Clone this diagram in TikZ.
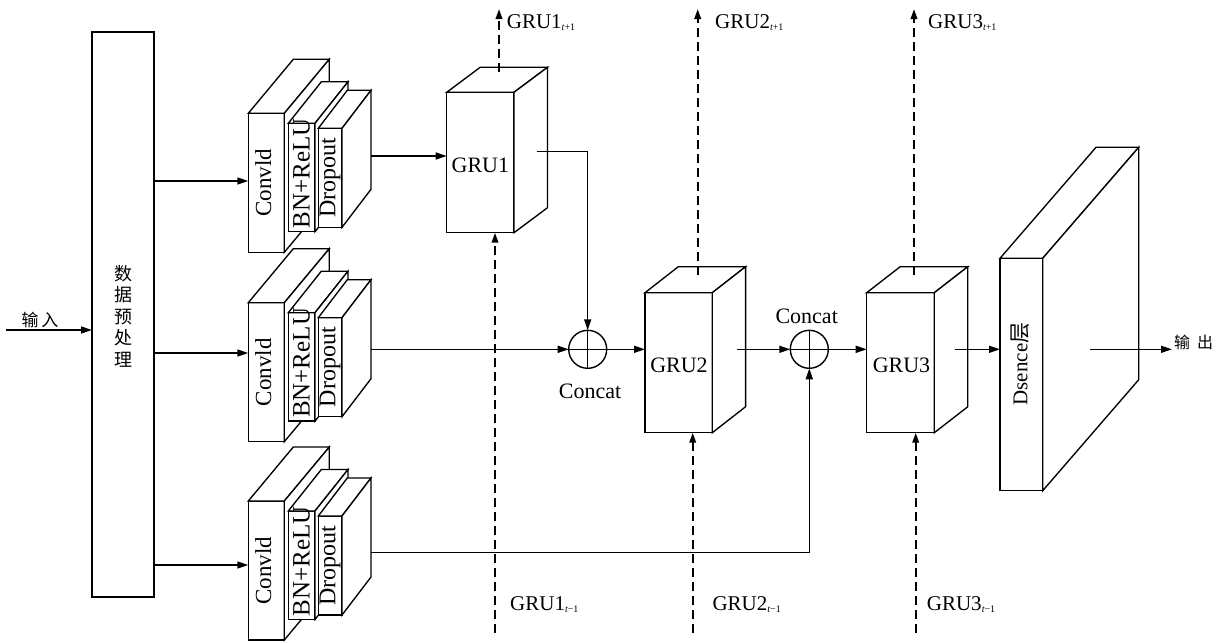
\documentclass[tikz,border=0pt]{standalone}
\usepackage{fontspec}
\setmainfont{Liberation Serif}
\newfontfamily\cjk{Noto Sans CJK SC}
\usetikzlibrary{arrows.meta,calc}
\newcommand\cubefaces[3]{%
  \filldraw[boxline] (#1.north west) -- ++(#2,#3) -- ($(#1.north east)+(#2,#3)$) -- (#1.north east) -- cycle;
  \filldraw[boxline] (#1.north east) -- ++(#2,#3) -- ($(#1.south east)+(#2,#3)$) -- (#1.south east) -- cycle;}
\newcommand\grulab[2]{GRU#1\raisebox{-2pt}{\fontsize{10}{10}\selectfont\itshape t\upshape#2}}
\begin{document}
\begin{tikzpicture}[x=1pt,y=-1pt,
  boxline/.style={draw=black,line width=1.35pt,fill=white,line join=miter},
  face/.style={boxline,rectangle,inner sep=0pt,outer sep=0pt},
  arr/.style={line width=1.5pt,-{Triangle[length=11pt,width=7pt]}},
  dasharr/.style={line width=2pt,dash pattern=on 9pt off 5pt,-{Triangle[length=10pt,width=6.5pt]}},
  opcircle/.style={circle,draw,line width=1.4pt,fill=white,minimum size=38pt,inner sep=0pt,outer sep=0pt,
    path picture={\draw[line width=1.4pt] (path picture bounding box.north) -- (path picture bounding box.south)
      (path picture bounding box.west) -- (path picture bounding box.east);}},
  lab/.style={font=\fontsize{22}{22}\selectfont,inner sep=0pt},
  toplab/.style={font=\fontsize{21}{21}\selectfont,inner sep=0pt,anchor=base west}]
\useasboundingbox (0,0) rectangle (1223,641);

% preprocessing
\node[face,minimum width=62pt,minimum height=565pt] (pre) at (123,314.5) {};
\node[font=\cjk\fontsize{18}{21.5}\selectfont,align=center,inner sep=0pt] (pret) at (123,316) {数\\据\\预\\处\\理};
\coordinate (inL) at (6,330);
\draw[arr] (inL) -- (inL -| pre.west);
\node[font=\cjk\fontsize{17}{17}\selectfont,inner sep=0pt] (inlab) at (40,320) {输\hspace{3pt}入};

% conv stacks
\foreach \i/\T in {1/113.3,2/302.7,3/501}{
  \node[face,minimum width=36pt,minimum height=139pt] (c\i) at (266.3,\T+69.5) {};
  \cubefaces{c\i}{45}{-54}
  \node[font=\fontsize{23}{23}\selectfont,inner sep=0pt] (ct\i) at ($(c\i.center)+(-3,0)$) {\rotatebox{90}{Convld}};
  \node[face,minimum width=26.7pt,minimum height=108.4pt] (b\i) at (301.65,\T+64.2) {};
  \cubefaces{b\i}{33}{-41.5}
  \node[font=\fontsize{25}{25}\selectfont,inner sep=0pt] (bt\i) at ($(b\i.center)+(0,-4)$) {\rotatebox{90}{BN+ReLU}};
  \node[face,minimum width=23.7pt,minimum height=99pt] (d\i) at (330.15,\T+64.5) {};
  \cubefaces{d\i}{29}{-38}
  \node[font=\fontsize{24}{24}\selectfont,inner sep=0pt] (dt\i) at (d\i.center) {\rotatebox{90}{Dropout}};
}

% branch arrows from preprocessing
\coordinate (br1) at (154,181);
\coordinate (br2) at (154,353);
\coordinate (br3) at (154,565);
\draw[arr] (br1) -- (br1 -| c1.west);
\draw[arr] (br2) -- (br2 -| c2.west);
\draw[arr] (br3) -- (br3 -| c3.west);

% GRU boxes
\node[face,minimum width=67.3pt,minimum height=140.4pt] (g1) at (480.35,162.5) {};
\cubefaces{g1}{33.5}{-25}
\node[lab] (g1t) at (480.35,165) {GRU1};
\node[face,minimum width=67.3pt,minimum height=140pt] (g2) at (678.65,362.7) {};
\cubefaces{g2}{33.3}{-26}
\node[lab] (g2t) at (679,365) {GRU2};
\node[face,minimum width=67.6pt,minimum height=140pt] (g3) at (900.5,362.7) {};
\cubefaces{g3}{33.5}{-26}
\node[lab] (g3t) at (901.5,365) {GRU3};

% Dsence
\node[face,minimum width=42.7pt,minimum height=232.4pt] (ds) at (1021.35,374.5) {};
\cubefaces{ds}{96}{-111}
\node[font=\fontsize{21}{21}\selectfont,inner sep=0pt] (dst) at (1020,364) {\rotatebox{90}{Dsence{\cjk 层}}};

% concat circles
\node[opcircle] (o1) at (587.7,349.3) {};
\node[opcircle] (o2) at (809.3,349.3) {};
\node[lab] (o1t) at (590,391.7) {Concat};
\node[lab] (o2t) at (806.7,316) {Concat};

% data flow
\coordinate (d1o) at (371,156);
\coordinate (d2o) at (371,349.3);
\coordinate (d3o) at (371,552.7);
\draw[arr] (d1o) -- (d1o -| g1.west);
\draw[arr] (d2o) -- (o1.west);
\draw[arr] (d3o) -| (o2.south);
\coordinate (g1o) at (536.7,151.7);
\draw[arr] (g1o) -| (o1.north);
\draw[arr] (o1.east) -- (o1.east -| g2.west);
\coordinate (g2o) at (736.7,349.3);
\draw[arr] (g2o) -- (o2.west);
\draw[arr] (o2.east) -- (o2.east -| g3.west);
\coordinate (g3o) at (955,349.3);
\draw[arr] (g3o) -- (g3o -| ds.west);
\coordinate (dso) at (1090,349.3);
\coordinate (outR) at (1172,349.3);
\draw[arr] (dso) -- (outR);
\node[font=\cjk\fontsize{16}{16}\selectfont,inner sep=0pt,anchor=west] (outlab) at (1174,342) {输\hspace{7pt}出};

% recurrent (dashed) connections
\coordinate (t1a) at (499,72);   \coordinate (t1b) at (499,9);
\coordinate (t2a) at (697.7,275); \coordinate (t2b) at (697.7,9);
\coordinate (t3a) at (914,275);  \coordinate (t3b) at (914,9);
\draw[dasharr] (t1a) -- (t1b);
\draw[dasharr] (t2a) -- (t2b);
\draw[dasharr] (t3a) -- (t3b);
\coordinate (u1) at (495,633);
\coordinate (u2) at (692.7,633);
\coordinate (u3) at (915.7,633);
\draw[dasharr] (u1) -- (u1 |- g1.south);
\draw[dasharr] (u2) -- (u2 |- g2.south);
\draw[dasharr] (u3) -- (u3 |- g3.south);

\node[toplab] (l1t) at (506.7,28) {\grulab{1}{+1}};
\node[toplab] (l2t) at (715,28) {\grulab{2}{+1}};
\node[toplab] (l3t) at (928,28) {\grulab{3}{+1}};
\node[toplab] (l1b) at (510,610) {\grulab{1}{−1}};
\node[toplab] (l2b) at (712.3,610) {\grulab{2}{−1}};
\node[toplab] (l3b) at (926.7,610) {\grulab{3}{−1}};
\end{tikzpicture}
\end{document}
